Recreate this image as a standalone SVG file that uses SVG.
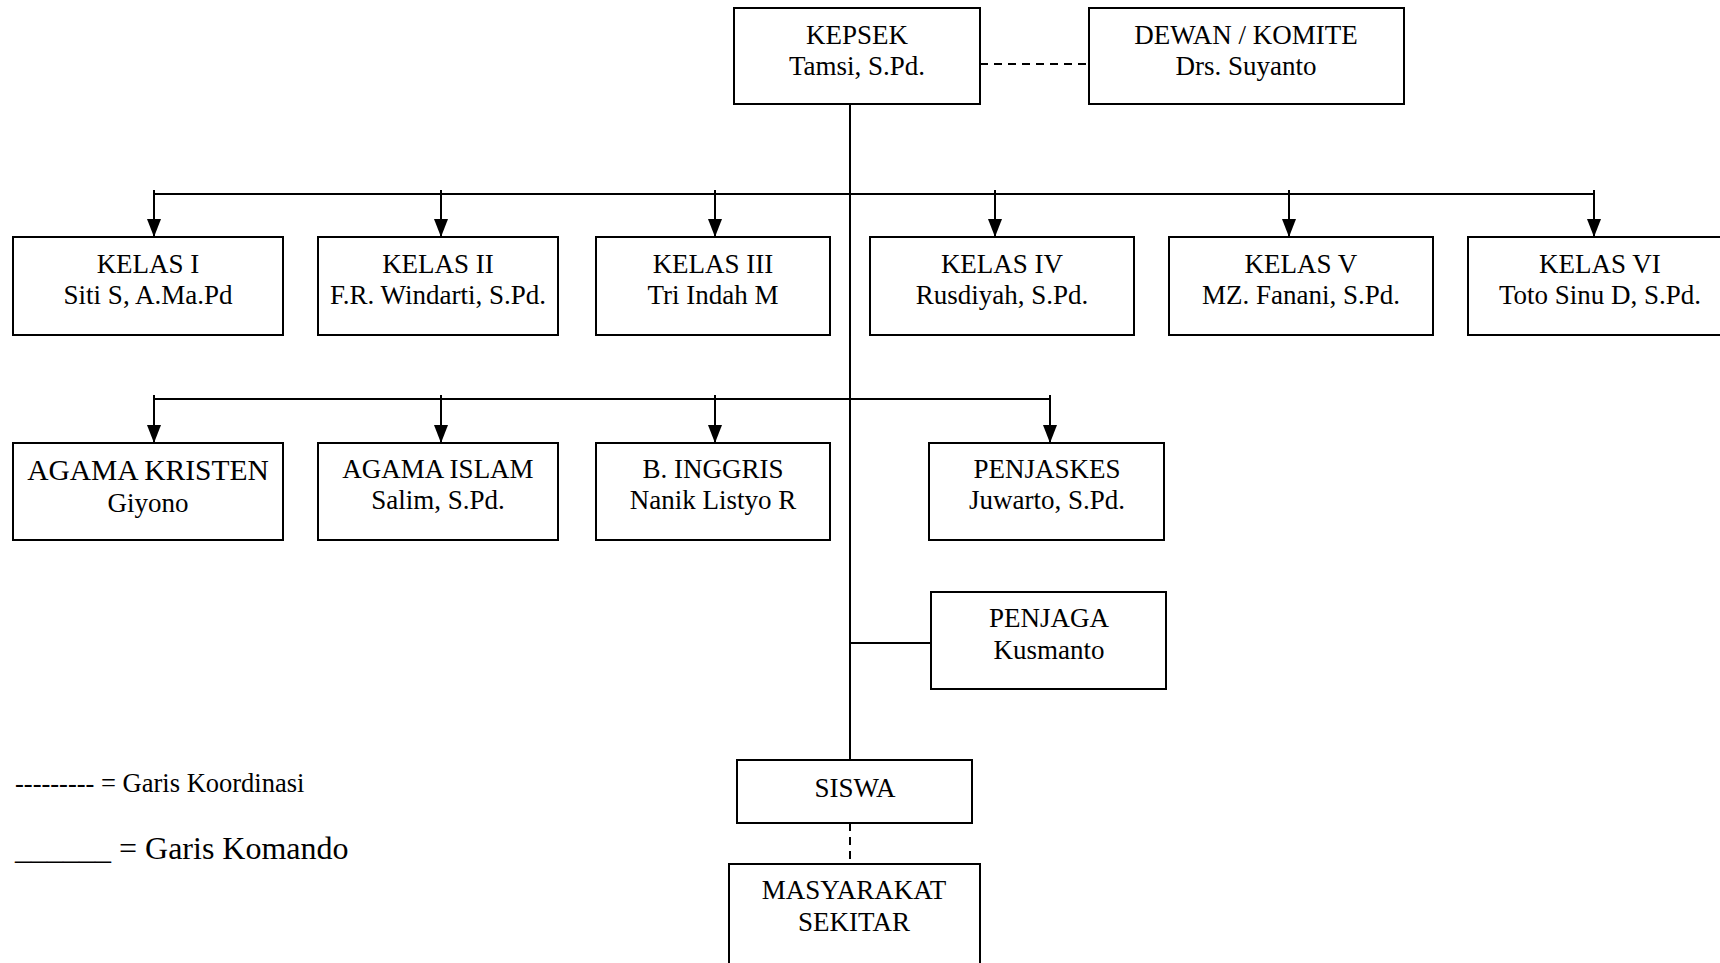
<svg xmlns="http://www.w3.org/2000/svg" width="1720" height="963" viewBox="0 0 1720 963">
<defs>
<style>
.box{fill:#fff;stroke:#000;stroke-width:2}
.t{font-family:"Liberation Serif","Times New Roman",serif;font-size:27px;fill:#000;text-anchor:middle}
.big{font-size:29.5px}
.ln{stroke:#000;stroke-width:2;fill:none}
.dash{stroke:#000;stroke-width:2;fill:none;stroke-dasharray:8,6}
.leg{font-family:"Liberation Serif","Times New Roman",serif;fill:#000}
</style>
<marker id="ah" viewBox="0 0 18 14" refX="18" refY="7" markerWidth="18" markerHeight="14" markerUnits="userSpaceOnUse" orient="auto">
<path d="M0,0 L18,7 L0,14 Z" fill="#000"/>
</marker>
</defs>
<rect width="1720" height="963" fill="#fff"/>

<g id="connectors">
<line class="ln" x1="850" y1="104" x2="850" y2="760"/>
<line class="dash" x1="980" y1="64" x2="1089" y2="64"/>
<line class="ln" x1="154" y1="194" x2="1594" y2="194"/>
<path class="ln" d="M154,190 V237" marker-end="url(#ah)"/>
<path class="ln" d="M441,190 V237" marker-end="url(#ah)"/>
<path class="ln" d="M715,190 V237" marker-end="url(#ah)"/>
<path class="ln" d="M995,190 V237" marker-end="url(#ah)"/>
<path class="ln" d="M1289,190 V237" marker-end="url(#ah)"/>
<path class="ln" d="M1594,190 V237" marker-end="url(#ah)"/>
<line class="ln" x1="154" y1="399" x2="1050" y2="399"/>
<path class="ln" d="M154,395 V443" marker-end="url(#ah)"/>
<path class="ln" d="M441,395 V443" marker-end="url(#ah)"/>
<path class="ln" d="M715,395 V443" marker-end="url(#ah)"/>
<path class="ln" d="M1050,395 V443" marker-end="url(#ah)"/>
<line class="ln" x1="850" y1="643" x2="931" y2="643"/>
<line class="dash" x1="850" y1="823" x2="850" y2="864"/>
</g>

<g id="kepsek"><rect class="box" x="734" y="8" width="246" height="96"/>
<text class="t" x="857" y="44">KEPSEK</text><text class="t" x="857" y="75">Tamsi, S.Pd.</text></g>
<g id="dewan"><rect class="box" x="1089" y="8" width="315" height="96"/>
<text class="t" x="1246" y="44">DEWAN / KOMITE</text><text class="t" x="1246" y="75">Drs. Suyanto</text></g>

<g id="kelas1"><rect class="box" x="13" y="237" width="270" height="98"/>
<text class="t" x="148" y="273">KELAS I</text><text class="t" x="148" y="304">Siti S, A.Ma.Pd</text></g>
<g id="kelas2"><rect class="box" x="318" y="237" width="240" height="98"/>
<text class="t" x="438" y="273">KELAS II</text><text class="t" x="438" y="304">F.R. Windarti, S.Pd.</text></g>
<g id="kelas3"><rect class="box" x="596" y="237" width="234" height="98"/>
<text class="t" x="713" y="273">KELAS III</text><text class="t" x="713" y="304">Tri Indah M</text></g>
<g id="kelas4"><rect class="box" x="870" y="237" width="264" height="98"/>
<text class="t" x="1002" y="273">KELAS IV</text><text class="t" x="1002" y="304">Rusdiyah, S.Pd.</text></g>
<g id="kelas5"><rect class="box" x="1169" y="237" width="264" height="98"/>
<text class="t" x="1301" y="273">KELAS V</text><text class="t" x="1301" y="304">MZ. Fanani, S.Pd.</text></g>
<g id="kelas6"><rect class="box" x="1468" y="237" width="260" height="98"/>
<text class="t" x="1600" y="273">KELAS VI</text><text class="t" x="1600" y="304">Toto Sinu D, S.Pd.</text></g>

<g id="agamakristen"><rect class="box" x="13" y="443" width="270" height="97"/>
<text class="t big" x="148" y="480">AGAMA KRISTEN</text><text class="t" x="148" y="512">Giyono</text></g>
<g id="agamaislam"><rect class="box" x="318" y="443" width="240" height="97"/>
<text class="t" x="438" y="478">AGAMA ISLAM</text><text class="t" x="438" y="509">Salim, S.Pd.</text></g>
<g id="binggris"><rect class="box" x="596" y="443" width="234" height="97"/>
<text class="t" x="713" y="478">B. INGGRIS</text><text class="t" x="713" y="509">Nanik Listyo R</text></g>
<g id="penjaskes"><rect class="box" x="929" y="443" width="235" height="97"/>
<text class="t" x="1047" y="478">PENJASKES</text><text class="t" x="1047" y="509">Juwarto, S.Pd.</text></g>

<g id="penjaga"><rect class="box" x="931" y="592" width="235" height="97"/>
<text class="t" x="1049" y="627">PENJAGA</text><text class="t" x="1049" y="659">Kusmanto</text></g>

<g id="siswa"><rect class="box" x="737" y="760" width="235" height="63"/>
<text class="t" x="855" y="797">SISWA</text></g>
<g id="masyarakat"><rect class="box" x="729" y="864" width="251" height="110"/>
<text class="t" x="854" y="899">MASYARAKAT</text><text class="t" x="854" y="931">SEKITAR</text></g>

<g id="legend">
<text class="leg" x="15" y="792" font-size="26.5">--------- = Garis Koordinasi</text>
<text class="leg" x="15" y="859" font-size="32">______ = Garis Komando</text>
</g>
</svg>
